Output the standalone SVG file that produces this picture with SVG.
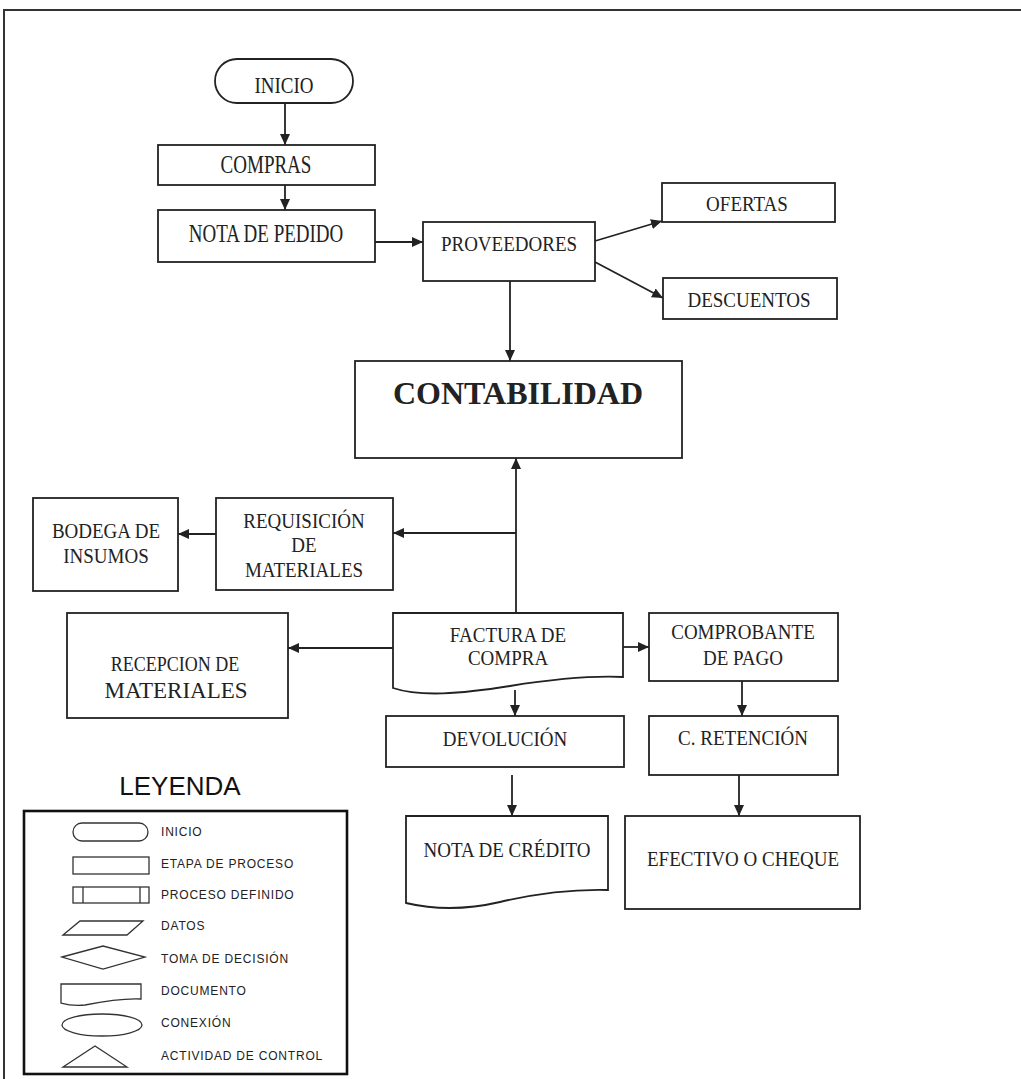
<svg xmlns="http://www.w3.org/2000/svg" width="1021" height="1079" viewBox="0 0 1021 1079">
<style>
.bx{fill:#fff;stroke:#222;stroke-width:1.8}
.t{font-family:"Liberation Serif","Times New Roman",serif;font-size:19px;fill:#222;text-anchor:middle}
.tb{font-family:"Liberation Serif","Times New Roman",serif;font-size:32px;font-weight:bold;fill:#222;text-anchor:middle}
.c{stroke:#222;stroke-width:1.8;fill:none;marker-end:url(#ah)}
.lg{fill:#fff;stroke:#333;stroke-width:1.3}
.lt{font-family:"Liberation Sans",Arial,sans-serif;font-size:12px;letter-spacing:0.8px;fill:#222}
</style>
<defs>
<marker id="ah" markerUnits="userSpaceOnUse" markerWidth="11" markerHeight="10" refX="11" refY="5" orient="auto">
<path d="M0,0 L11,5 L0,10 z" fill="#222"/>
</marker>
</defs>
<rect x="0" y="0" width="1021" height="1079" fill="#fff"/>
<g id="frame">
<path d="M4,1079 V10 H1021" fill="none" stroke="#333" stroke-width="2"/>
</g>
<g id="connectors">
<path class="c" d="M285,103 V145"/>
<path class="c" d="M285,185 V210"/>
<path class="c" d="M375,242 H423"/>
<path class="c" d="M595,241 L662,221"/>
<path class="c" d="M595,262 L663,298"/>
<path class="c" d="M510,281 V361"/>
<path class="c" d="M516,613 V458"/>
<path class="c" d="M516,533 H393"/>
<path class="c" d="M216,534 H178"/>
<path class="c" d="M393,648 H288"/>
<path class="c" d="M623,647 H649"/>
<path class="c" d="M515,690 V716"/>
<path class="c" d="M742,681 V716"/>
<path class="c" d="M512,775 V816"/>
<path class="c" d="M739,775 V816"/>
</g>
<g id="inicio">
<rect class="bx" x="215" y="59" width="138" height="44" rx="22"/>
<text class="t" transform="translate(284,93) scale(1,1.22)">INICIO</text>
</g>
<g id="compras">
<rect class="bx" x="158" y="145" width="217" height="40"/>
<text class="t" transform="translate(266,173) scale(1,1.28)">COMPRAS</text>
</g>
<g id="nota-pedido">
<rect class="bx" x="158" y="210" width="217" height="52"/>
<text class="t" transform="translate(266,242) scale(1,1.3)">NOTA DE PEDIDO</text>
</g>
<g id="proveedores">
<rect class="bx" x="423" y="222" width="172" height="59"/>
<text class="t" transform="translate(509,251) scale(1,1.15)">PROVEEDORES</text>
</g>
<g id="ofertas">
<rect class="bx" x="662" y="183" width="173" height="39"/>
<text class="t" transform="translate(747,211) scale(1,1.15)">OFERTAS</text>
</g>
<g id="descuentos">
<rect class="bx" x="663" y="278" width="174" height="41"/>
<text class="t" transform="translate(749,307) scale(1,1.15)">DESCUENTOS</text>
</g>
<g id="contabilidad">
<rect class="bx" x="355" y="361" width="327" height="97"/>
<text class="tb" x="518" y="404">CONTABILIDAD</text>
</g>
<g id="bodega">
<rect class="bx" x="33" y="498" width="145" height="93"/>
<text class="t" transform="translate(106,538) scale(1,1.15)">BODEGA DE</text>
<text class="t" transform="translate(106,563) scale(1,1.15)">INSUMOS</text>
</g>
<g id="requisicion">
<rect class="bx" x="216" y="498" width="177" height="92"/>
<text class="t" transform="translate(304,528) scale(1,1.15)">REQUISICIÓN</text>
<text class="t" transform="translate(304,552) scale(1,1.15)">DE</text>
<text class="t" transform="translate(304,577) scale(1,1.15)">MATERIALES</text>
</g>
<g id="recepcion">
<rect class="bx" x="67" y="613" width="221" height="105"/>
<text class="t" style="font-size:18px" transform="translate(175,671) scale(1,1.15)">RECEPCION DE</text>
<text class="t" style="font-size:23px" x="176" y="698">MATERIALES</text>
</g>
<g id="factura">
<path class="bx" d="M393,613 H623 V677 C600,676 560,678 510,686 C460,694 420,697 393,688 Z"/>
<text class="t" transform="translate(508,642) scale(1,1.15)">FACTURA DE</text>
<text class="t" transform="translate(508,665) scale(1,1.15)">COMPRA</text>
</g>
<g id="comprobante">
<rect class="bx" x="649" y="613" width="189" height="68"/>
<text class="t" transform="translate(743,639) scale(1,1.15)">COMPROBANTE</text>
<text class="t" transform="translate(743,665) scale(1,1.15)">DE PAGO</text>
</g>
<g id="devolucion">
<rect class="bx" x="386" y="716" width="238" height="51"/>
<text class="t" transform="translate(505,746) scale(1,1.05)">DEVOLUCIÓN</text>
</g>
<g id="retencion">
<rect class="bx" x="649" y="716" width="189" height="59"/>
<text class="t" transform="translate(743,745) scale(1,1.15)">C. RETENCIÓN</text>
</g>
<g id="nota-credito">
<path class="bx" d="M406,816 H608 V890 C570,889 530,895 500,902 C470,909 440,911 406,903 Z"/>
<text class="t" transform="translate(507,857) scale(1,1.15)">NOTA DE CRÉDITO</text>
</g>
<g id="efectivo">
<rect class="bx" x="625" y="816" width="235" height="93"/>
<text class="t" transform="translate(743,866) scale(1,1.15)">EFECTIVO O CHEQUE</text>
</g>
<g id="leyenda">
<text x="180" y="795" font-family="'Liberation Sans',Arial,sans-serif" font-size="26" fill="#111" text-anchor="middle">LEYENDA</text>
<rect x="24" y="811" width="323" height="263" fill="#fff" stroke="#111" stroke-width="2.6"/>
<rect class="lg" x="73" y="823" width="75" height="18" rx="9"/>
<text class="lt" x="161" y="836">INICIO</text>
<rect class="lg" x="73" y="857" width="76" height="17"/>
<text class="lt" x="161" y="868">ETAPA DE PROCESO</text>
<rect class="lg" x="73" y="887" width="76" height="16"/>
<path class="lg" d="M83,887 V903 M140,887 V903"/>
<text class="lt" x="161" y="899">PROCESO DEFINIDO</text>
<path class="lg" d="M63,935 L80,921 H143 L127,935 Z"/>
<text class="lt" x="161" y="930">DATOS</text>
<path class="lg" d="M62,957 L103,946 L145,957 L103,969 Z"/>
<text class="lt" x="161" y="963">TOMA DE DECISIÓN</text>
<path class="lg" d="M61,984 H141 V999 C120,998 100,1002 85,1005 C75,1006 68,1005 61,1003 Z"/>
<text class="lt" x="161" y="995">DOCUMENTO</text>
<ellipse class="lg" cx="102" cy="1025" rx="40" ry="11"/>
<text class="lt" x="161" y="1027">CONEXIÓN</text>
<path class="lg" d="M63,1067 L95,1046 L127,1067 Z"/>
<text class="lt" x="161" y="1060">ACTIVIDAD DE CONTROL</text>
</g>
</svg>
